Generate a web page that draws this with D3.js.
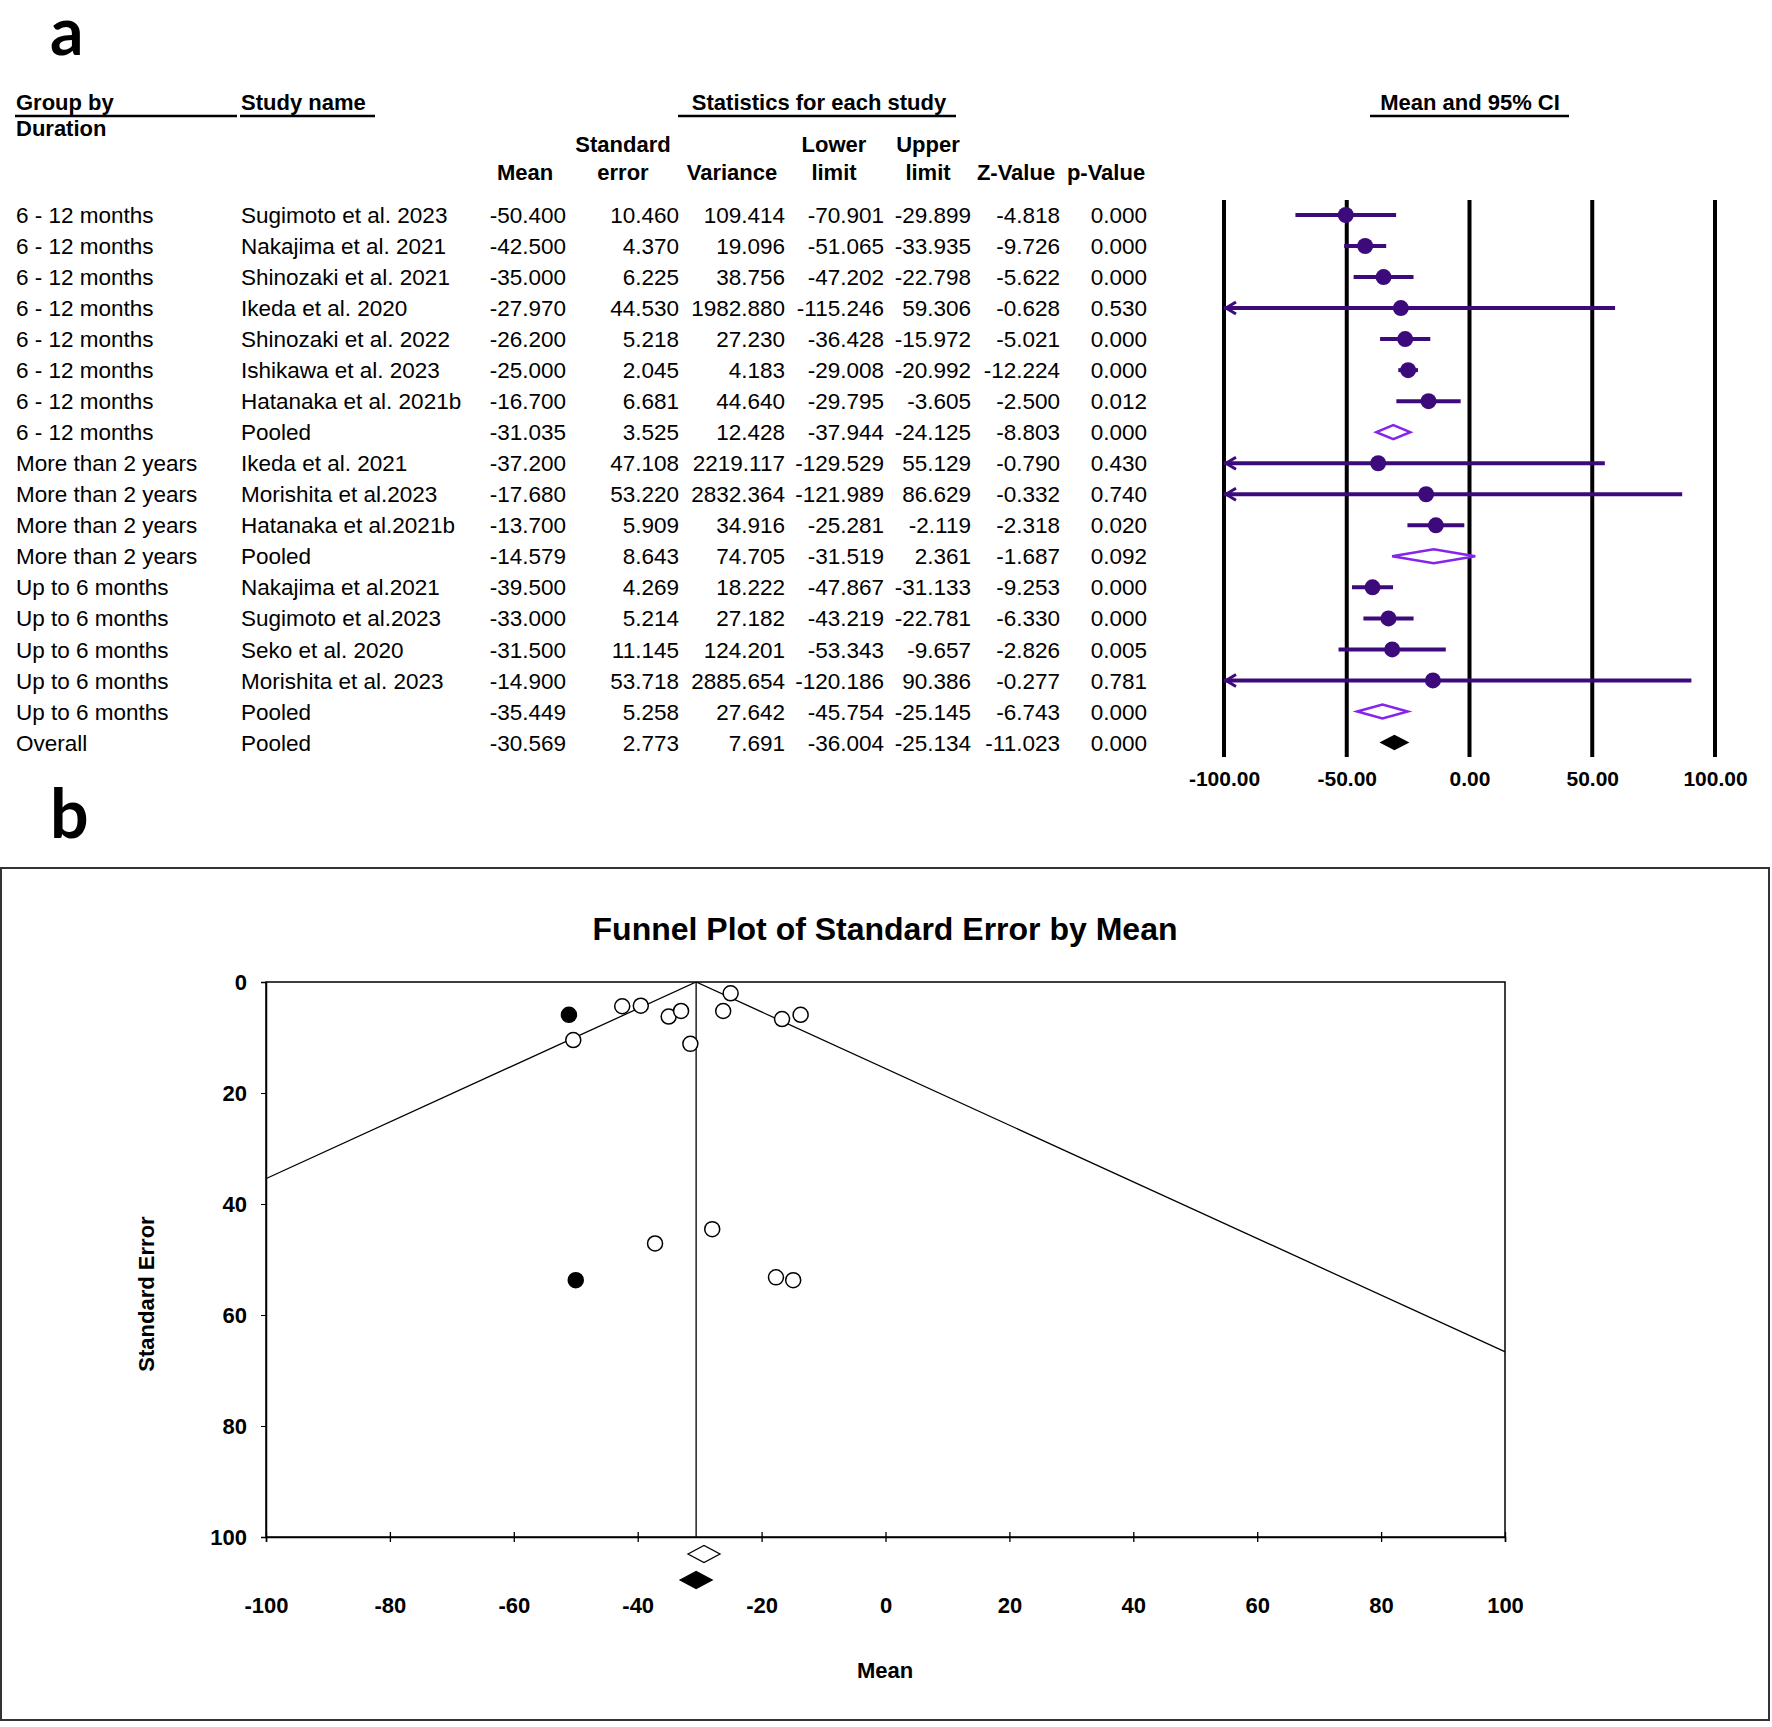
<!DOCTYPE html>
<html>
<head>
<meta charset="utf-8">
<script src="https://cdn.jsdelivr.net/npm/d3@7"></script>
<style>
  body { margin: 0; background: #fff; }
  text { font-family: "Liberation Sans", Arial, sans-serif; }
</style>
</head>
<body>
<div id="chart"></div>
<script>
// forest plot rows
const groups = ["6 - 12 months","6 - 12 months","6 - 12 months","6 - 12 months","6 - 12 months","6 - 12 months","6 - 12 months","6 - 12 months",
  "More than 2 years","More than 2 years","More than 2 years","More than 2 years",
  "Up to 6 months","Up to 6 months","Up to 6 months","Up to 6 months","Up to 6 months","Overall"];
const studies = ["Sugimoto et al. 2023","Nakajima et al. 2021","Shinozaki et al. 2021","Ikeda et al. 2020","Shinozaki et al. 2022","Ishikawa et al. 2023","Hatanaka et al. 2021b","Pooled",
  "Ikeda et al. 2021","Morishita et al.2023","Hatanaka et al.2021b","Pooled",
  "Nakajima et al.2021","Sugimoto et al.2023","Seko et al. 2020","Morishita et al. 2023","Pooled","Pooled"];
const means    = [-50.400,-42.500,-35.000,-27.970,-26.200,-25.000,-16.700,-31.035,-37.200,-17.680,-13.700,-14.579,-39.500,-33.000,-31.500,-14.900,-35.449,-30.569];
const stdErr   = [10.460,4.370,6.225,44.530,5.218,2.045,6.681,3.525,47.108,53.220,5.909,8.643,4.269,5.214,11.145,53.718,5.258,2.773];
const variance = [109.414,19.096,38.756,1982.880,27.230,4.183,44.640,12.428,2219.117,2832.364,34.916,74.705,18.222,27.182,124.201,2885.654,27.642,7.691];
const lower    = [-70.901,-51.065,-47.202,-115.246,-36.428,-29.008,-29.795,-37.944,-129.529,-121.989,-25.281,-31.519,-47.867,-43.219,-53.343,-120.186,-45.754,-36.004];
const upper    = [-29.899,-33.935,-22.798,59.306,-15.972,-20.992,-3.605,-24.125,55.129,86.629,-2.119,2.361,-31.133,-22.781,-9.657,90.386,-25.145,-25.134];
const zValue   = [-4.818,-9.726,-5.622,-0.628,-5.021,-12.224,-2.500,-8.803,-0.790,-0.332,-2.318,-1.687,-9.253,-6.330,-2.826,-0.277,-6.743,-11.023];
const pValue   = [0.000,0.000,0.000,0.530,0.000,0.000,0.012,0.000,0.430,0.740,0.020,0.092,0.000,0.000,0.005,0.781,0.000,0.000];
const forestTicks = [-100,-50,0,50,100];

// funnel plot
const funnelMeans = [-50.400,-42.500,-35.000,-27.970,-26.200,-25.000,-16.700,-37.200,-17.680,-13.700,-39.500,-33.000,-31.500,-14.900];
const funnelSE    = [10.460,4.370,6.225,44.530,5.218,2.045,6.681,47.108,53.220,5.909,4.269,5.214,11.145,53.718];
const imputedMeans = [-51.1,-50.0];
const imputedSE    = [5.909,53.718];
const observedEst = -29.3;
const adjustedEst = -30.569;
const funnelCenter = -30.569;
const funnelXTicks = [-100,-80,-60,-40,-20,0,20,40,60,80,100];
const funnelYTicks = [0,20,40,60,80,100];

const W = 1772, H = 1727;
const svg = d3.select("#chart").append("svg")
    .attr("width", W).attr("height", H);

const dark = "#3d0a7c", light = "#8424ec";
// plain hyphen as minus, like the original table
const locale = d3.formatLocale({ decimal: ".", thousands: ",", grouping: [3], currency: ["", ""], minus: "-" });
const fmt3 = locale.format(".3f");
const fmt2 = locale.format(".2f");
const fmt0 = locale.format("d");

// panel letters
svg.append("text").attr("x", 50).attr("y", 55).text("a")
    .style("font-family", "Lato, 'Open Sans', sans-serif").style("font-weight", "bold").style("font-size", "66px");
svg.append("text").attr("x", 50).attr("y", 838).text("b")
    .style("font-family", "Lato, 'Open Sans', sans-serif").style("font-weight", "bold").style("font-size", "68px");

// ---- table headers
const head = svg.append("g").style("font-weight", "bold").style("font-size", "22px");
head.append("text").attr("x", 16).attr("y", 110).text("Group by");
head.append("text").attr("x", 16).attr("y", 136).text("Duration");
head.append("text").attr("x", 241).attr("y", 110).text("Study name");
head.append("text").attr("x", 819).attr("y", 110).attr("text-anchor", "middle").text("Statistics for each study");
head.append("text").attr("x", 1470).attr("y", 110).attr("text-anchor", "middle").text("Mean and 95% CI");

[[15, 237], [240, 375], [678, 956], [1370, 1569]].forEach(([a, b]) => {
  svg.append("line").attr("x1", a).attr("x2", b).attr("y1", 116).attr("y2", 116)
      .attr("stroke", "#000").attr("stroke-width", 2.5);
});

const cols = [
  { key: means,    right: 566,  h1: "",         h2: "Mean",     hx: 525 },
  { key: stdErr,   right: 679,  h1: "Standard", h2: "error",    hx: 623 },
  { key: variance, right: 785,  h1: "",         h2: "Variance", hx: 732 },
  { key: lower,    right: 884,  h1: "Lower",    h2: "limit",    hx: 834 },
  { key: upper,    right: 971,  h1: "Upper",    h2: "limit",    hx: 928 },
  { key: zValue,   right: 1060, h1: "",         h2: "Z-Value",  hx: 1016 },
  { key: pValue,   right: 1147, h1: "",         h2: "p-Value",  hx: 1106 }
];
cols.forEach(c => {
  if (c.h1) head.append("text").attr("x", c.hx).attr("y", 152).attr("text-anchor", "middle").text(c.h1);
  head.append("text").attr("x", c.hx).attr("y", 180).attr("text-anchor", "middle").text(c.h2);
});

// ---- table rows
const y = d3.scalePoint().domain(d3.range(groups.length)).range([215, 742.5]);
const rows = svg.append("g").style("font-size", "22.5px");
groups.forEach((g, i) => {
  rows.append("text").attr("x", 16).attr("y", y(i)).attr("dy", "0.36em").text(g);
  rows.append("text").attr("x", 241).attr("y", y(i)).attr("dy", "0.36em").text(studies[i]);
  cols.forEach(c => {
    rows.append("text").attr("x", c.right).attr("y", y(i)).attr("dy", "0.36em")
        .attr("text-anchor", "end").text(fmt3(c.key[i]));
  });
});

// ---- forest plot
const xF = d3.scaleLinear().domain([-100, 100]).range([1224, 1715]);
const forest = svg.append("g");

forest.selectAll(".vline").data(forestTicks).enter().append("line")
    .attr("x1", d => xF(d)).attr("x2", d => xF(d))
    .attr("y1", 200).attr("y2", 757)
    .attr("stroke", "#000").attr("stroke-width", 4);

forest.append("g")
    .attr("transform", "translate(0,768)")
    .call(d3.axisBottom(xF).tickValues(forestTicks).tickFormat(fmt2).tickSize(0))
    .call(g => g.select(".domain").remove())
    .selectAll("text")
      .style("font-family", "'Liberation Sans', Arial, sans-serif")
      .style("font-weight", "bold").style("font-size", "21px").attr("fill", "#000");

const idx = d3.range(groups.length);
const studyIdx = idx.filter(i => studies[i] !== "Pooled");
const pooledIdx = idx.filter(i => studies[i] === "Pooled");

studyIdx.forEach(i => {
  const lo = Math.max(lower[i], -100), hi = Math.min(upper[i], 100);
  forest.append("line")
      .attr("x1", xF(lo)).attr("x2", xF(hi)).attr("y1", y(i)).attr("y2", y(i))
      .attr("stroke", dark).attr("stroke-width", 4);
  if (lower[i] < -100) {
    const x0 = xF(-100);
    forest.append("path")
        .attr("d", `M${x0 + 12},${y(i) - 6}L${x0 + 2},${y(i)}L${x0 + 12},${y(i) + 6}`)
        .attr("fill", "none").attr("stroke", dark).attr("stroke-width", 3);
  }
  forest.append("circle").attr("cx", xF(means[i])).attr("cy", y(i)).attr("r", 8).attr("fill", dark);
});

pooledIdx.forEach(i => {
  const overall = groups[i] === "Overall";
  const h = 7;
  forest.append("path")
      .attr("d", `M${xF(lower[i])},${y(i)}L${xF(means[i])},${y(i) - h}L${xF(upper[i])},${y(i)}L${xF(means[i])},${y(i) + h}Z`)
      .attr("fill", overall ? "#000" : "#fff")
      .attr("stroke", overall ? "#000" : light)
      .attr("stroke-width", overall ? 1.5 : 2.5);
});

// ---- funnel plot
svg.append("rect").attr("x", 1).attr("y", 868).attr("width", 1768).attr("height", 852)
    .attr("fill", "none").attr("stroke", "#333").attr("stroke-width", 2);

svg.append("text").attr("x", 885).attr("y", 940).attr("text-anchor", "middle")
    .style("font-weight", "bold").style("font-size", "32px")
    .text("Funnel Plot of Standard Error by Mean");

const xS = d3.scaleLinear().domain([-100, 100]).range([266, 1505]);
const yS = d3.scaleLinear().domain([0, 100]).range([982, 1537]);

svg.append("clipPath").attr("id", "plotclip").append("rect")
    .attr("x", xS(-100)).attr("y", yS(0)).attr("width", xS(100) - xS(-100)).attr("height", yS(100) - yS(0));

const fp = svg.append("g");
fp.append("rect").attr("x", xS(-100)).attr("y", yS(0))
    .attr("width", xS(100) - xS(-100)).attr("height", yS(100) - yS(0))
    .attr("fill", "none").attr("stroke", "#000").attr("stroke-width", 1.5);

const funnel = fp.append("g").attr("clip-path", "url(#plotclip)");
funnel.append("line").attr("x1", xS(funnelCenter)).attr("x2", xS(funnelCenter))
    .attr("y1", yS(0)).attr("y2", yS(100)).attr("stroke", "#000").attr("stroke-width", 1.3);
[-1, 1].forEach(s => {
  funnel.append("line")
      .attr("x1", xS(funnelCenter)).attr("y1", yS(0))
      .attr("x2", xS(funnelCenter + s * 1.96 * 100)).attr("y2", yS(100))
      .attr("stroke", "#000").attr("stroke-width", 1.3);
});

// axes
const xAxis = fp.append("g").attr("transform", `translate(0,${yS(100)})`)
    .call(d3.axisBottom(xS).tickValues(funnelXTicks).tickFormat(fmt0).tickSize(5).tickPadding(55));
xAxis.select(".domain").attr("stroke-width", 1.5);
xAxis.selectAll(".tick line").attr("y1", -5).attr("y2", 5).attr("stroke-width", 1.3);

const yAxis = fp.append("g").attr("transform", `translate(${xS(-100)},0)`)
    .call(d3.axisLeft(yS).tickValues(funnelYTicks).tickFormat(fmt0).tickSize(5).tickPadding(14));
yAxis.select(".domain").attr("stroke-width", 1.5);

[xAxis, yAxis].forEach(a => a.selectAll("text")
    .style("font-family", "'Liberation Sans', Arial, sans-serif")
    .style("font-weight", "bold").style("font-size", "22px").attr("fill", "#000"));

fp.append("text").attr("x", 885).attr("y", 1678).attr("text-anchor", "middle")
    .style("font-weight", "bold").style("font-size", "22px").text("Mean");
fp.append("text").attr("transform", "translate(154,1294) rotate(-90)").attr("text-anchor", "middle")
    .style("font-weight", "bold").style("font-size", "22px").text("Standard Error");

// points
fp.selectAll(".obs").data(d3.range(funnelMeans.length)).enter().append("circle")
    .attr("cx", i => xS(funnelMeans[i])).attr("cy", i => yS(funnelSE[i])).attr("r", 7.5)
    .attr("fill", "#fff").attr("stroke", "#000").attr("stroke-width", 1.5);
fp.selectAll(".imp").data(d3.range(imputedMeans.length)).enter().append("circle")
    .attr("cx", i => xS(imputedMeans[i])).attr("cy", i => yS(imputedSE[i])).attr("r", 7.5)
    .attr("fill", "#000").attr("stroke", "#000").attr("stroke-width", 1.5);

// summary diamonds
function diamond(cx, cy, fill) {
  fp.append("path")
      .attr("d", `M${cx - 16},${cy}L${cx},${cy - 8.5}L${cx + 16},${cy}L${cx},${cy + 8.5}Z`)
      .attr("fill", fill).attr("stroke", "#000").attr("stroke-width", 1.3);
}
diamond(xS(observedEst), 1554, "#fff");
diamond(xS(adjustedEst), 1580, "#000");
</script>
</body>
</html>
